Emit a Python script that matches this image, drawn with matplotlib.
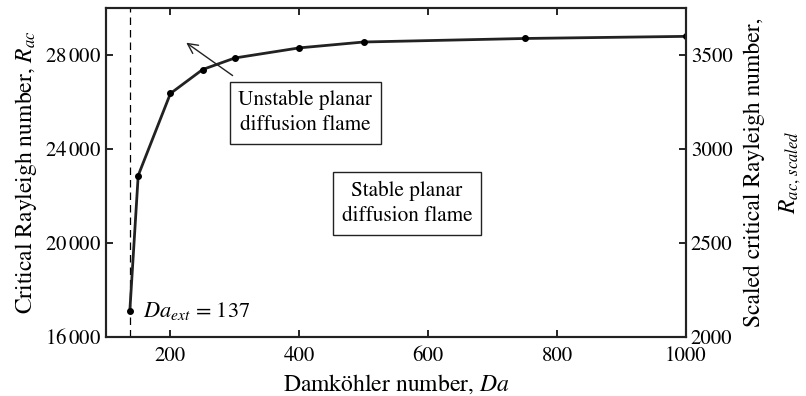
import matplotlib
matplotlib.use('Agg')
import matplotlib.pyplot as plt

plt.rcParams['font.family'] = ['STIXGeneral', 'DejaVu Sans']
plt.rcParams['mathtext.fontset'] = 'stix'

# critical Rayleigh number vs Damkoehler number
Da = [137, 150, 200, 250, 300, 400, 500, 750, 1000]
Rac = [17110, 22870, 26360, 27380, 27870, 28300, 28550, 28700, 28790]
Da_ext = 137
SCALE = 8.0  # R_ac,scaled = R_ac / 8
left_ticks = [16000, 20000, 24000, 28000]
left_labels = ['$16\\,000$', '$20\\,000$', '$24\\,000$', '$28\\,000$']
right_ticks = [2000, 2500, 3000, 3500]

fig = plt.figure(figsize=(8.06, 3.96), dpi=100)
ax = fig.add_axes([0.1315, 0.149, 0.7195, 0.831])

ax.axvline(Da_ext, color='black', lw=0.9, ls=(0, (6, 4)))
ax.plot(Da, Rac, color='#222222', lw=2.0, marker='o', ms=4, mfc='black', mec='black')

ax.set_xlim(100, 1000)
ax.set_ylim(16000, 30000)
ax.set_xticks([200, 400, 600, 800, 1000])
ax.set_yticks(left_ticks)
ax.set_yticklabels(left_labels)
ax.tick_params(direction='in', labelsize=15, top=True, length=5, width=1.2)
ax.tick_params(axis='x', pad=6.5)
for s in ax.spines.values():
    s.set_linewidth(1.5)
    s.set_color('#222222')

ax.set_xlabel('Damköhler number, $Da$', fontsize=17, labelpad=5)
ax.set_ylabel('Critical Rayleigh number, $R_{ac}$', fontsize=17, labelpad=4)

ax2 = ax.twinx()
ax2.set_ylim(16000 / SCALE, 30000 / SCALE)
ax2.set_yticks(right_ticks)
ax2.tick_params(direction='in', labelsize=15, length=5, width=1.2)
ax2.set_ylabel('Scaled critical Rayleigh number,\n$R_{ac,\\,scaled}$', fontsize=17,
               labelpad=8, linespacing=1.7)
for s in ax2.spines.values():
    s.set_linewidth(1.5)
    s.set_color('#222222')

ax.text(157, 17110, '$Da_{ext}$ = 137', fontsize=16, va='center', ha='left')

box = dict(boxstyle='square,pad=0.4', fc='white', ec='#222222', lw=1.0)
ax.text(409, 25540, 'Unstable planar\ndiffusion flame', fontsize=15.3, ha='center',
        va='center', bbox=box, linespacing=1.35)
ax.text(567, 21680, 'Stable planar\ndiffusion flame', fontsize=15.3, ha='center',
        va='center', bbox=box, linespacing=1.35)
ax.annotate('', xy=(221, 28590), xytext=(300, 27054),
            arrowprops=dict(arrowstyle='->', color='#222222', lw=1.0,
                            mutation_scale=18))

fig.savefig('out.png', dpi=100)
